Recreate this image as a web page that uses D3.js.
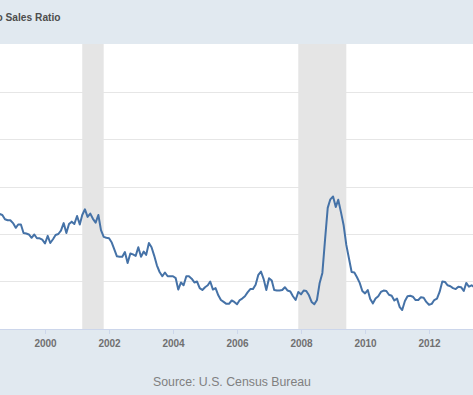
<!DOCTYPE html>
<html>
<head>
<meta charset="utf-8">
<script src="https://cdn.jsdelivr.net/npm/d3@7"></script>
<style>
  html, body { margin: 0; padding: 0; background: #e1e9f0; }
  svg { display: block; font-family: "Liberation Sans", Arial, sans-serif; }
</style>
</head>
<body>
<svg id="chart" width="473" height="395"></svg>
<script>
// ---- Data (monthly, starting July 1998) ----
const titleText = "Total Business: Inventories to Sales Ratio";
const sourceText = "Source: U.S. Census Bureau";
const startYear = 1998, startMonth = 6; // July 1998 (0-based month)
const ratio = [
  // 1998 Jul-Dec
  1.444, 1.442, 1.440, 1.431, 1.429, 1.429,
  // 1999
  1.423, 1.413, 1.420, 1.420, 1.402, 1.401, 1.399, 1.392, 1.399, 1.391, 1.391, 1.388,
  // 2000
  1.380, 1.396, 1.381, 1.389, 1.398, 1.400, 1.407, 1.423, 1.402, 1.421, 1.426, 1.421,
  // 2001
  1.438, 1.420, 1.440, 1.452, 1.436, 1.443, 1.432, 1.424, 1.440, 1.408, 1.394, 1.392,
  // 2002
  1.391, 1.382, 1.368, 1.353, 1.352, 1.352, 1.362, 1.339, 1.359, 1.357, 1.354, 1.372,
  // 2003
  1.352, 1.363, 1.356, 1.381, 1.372, 1.354, 1.334, 1.320, 1.311, 1.319, 1.311, 1.311,
  // 2004
  1.311, 1.307, 1.283, 1.298, 1.292, 1.311, 1.311, 1.306, 1.298, 1.300, 1.286, 1.282,
  // 2005
  1.288, 1.292, 1.300, 1.283, 1.286, 1.271, 1.261, 1.257, 1.253, 1.253, 1.260, 1.257,
  // 2006
  1.252, 1.261, 1.264, 1.269, 1.277, 1.284, 1.284, 1.293, 1.314, 1.321, 1.305, 1.282,
  // 2007
  1.307, 1.302, 1.282, 1.281, 1.281, 1.282, 1.288, 1.281, 1.279, 1.269, 1.261, 1.278,
  // 2008
  1.273, 1.281, 1.280, 1.271, 1.257, 1.252, 1.261, 1.297, 1.318, 1.387, 1.455, 1.473,
  // 2009
  1.479, 1.457, 1.472, 1.446, 1.419, 1.377, 1.349, 1.320, 1.319, 1.309, 1.297, 1.280,
  // 2010
  1.275, 1.282, 1.263, 1.254, 1.264, 1.269, 1.278, 1.281, 1.280, 1.272, 1.270, 1.260,
  // 2011
  1.264, 1.246, 1.240, 1.259, 1.269, 1.270, 1.268, 1.261, 1.261, 1.267, 1.266, 1.257,
  // 2012
  1.251, 1.253, 1.261, 1.264, 1.278, 1.300, 1.299, 1.292, 1.290, 1.286, 1.284, 1.289,
  // 2013 Jan-Jun
  1.288, 1.280, 1.297, 1.289, 1.292, 1.288
];
const recessions = [["2001-03-01", "2001-11-01"], ["2007-12-01", "2009-06-01"]];
const tickYears = [2000, 2002, 2004, 2006, 2008, 2010, 2012];
const gridValues = [1.3, 1.4, 1.5, 1.6, 1.7];

// ---- Layout ----
const W = 473, H = 395;
const plot = { left: 0, right: 473, top: 44, bottom: 329 };

const svg = d3.select("#chart");

const x = d3.scaleUtc()
  .domain([new Date(Date.UTC(2000, 0, 1)), new Date(Date.UTC(2012, 0, 1))])
  .range([45, 429]);
const y = d3.scaleLinear().domain([1.2, 1.8]).range([plot.bottom, plot.top]);

const series = ratio.map((v, i) => ({
  date: new Date(Date.UTC(startYear, startMonth + i, 1)),
  value: v
}));

// background
svg.append("rect").attr("width", W).attr("height", H).attr("fill", "#e1e9f0");

// plot area
svg.append("rect")
  .attr("x", plot.left).attr("y", plot.top)
  .attr("width", plot.right - plot.left).attr("height", plot.bottom - plot.top)
  .attr("fill", "#ffffff");

// gridlines
svg.append("g").selectAll("line").data(gridValues).join("line")
  .attr("x1", plot.left).attr("x2", plot.right)
  .attr("y1", d => Math.round(y(d)) + 0.5).attr("y2", d => Math.round(y(d)) + 0.5)
  .attr("stroke", "#e6e6e6").attr("stroke-width", 1);

// recession bands
const parse = d3.utcParse("%Y-%m-%d");
svg.append("g").selectAll("rect").data(recessions).join("rect")
  .attr("x", d => x(parse(d[0])))
  .attr("width", d => x(parse(d[1])) - x(parse(d[0])))
  .attr("y", plot.top).attr("height", plot.bottom - plot.top)
  .attr("fill", "#e5e5e5");

// axis
const axis = d3.axisBottom(x)
  .tickValues(tickYears.map(yr => new Date(Date.UTC(yr, 0, 1))))
  .tickFormat(d3.utcFormat("%Y"))
  .tickSize(5).tickPadding(6);
const gx = svg.append("g").attr("transform", `translate(0,${plot.bottom})`).call(axis);
gx.select(".domain").remove();
gx.append("line").attr("x1", 0).attr("x2", W).attr("y1", 0.5).attr("y2", 0.5)
  .attr("stroke", "#ccd6eb");
gx.selectAll(".tick line").attr("stroke", "#ccd6eb");
gx.selectAll(".tick text")
  .attr("fill", "#707070").attr("font-size", "10px").attr("font-weight", "bold")
  .attr("font-family", "'Liberation Sans', Arial, sans-serif");

// line
const clipId = "plotclip";
svg.append("clipPath").attr("id", clipId).append("rect")
  .attr("x", plot.left).attr("y", plot.top)
  .attr("width", plot.right - plot.left).attr("height", plot.bottom - plot.top);
svg.append("path")
  .datum(series)
  .attr("clip-path", `url(#${clipId})`)
  .attr("fill", "none")
  .attr("stroke", "#4572a7")
  .attr("stroke-width", 2)
  .attr("stroke-linejoin", "round")
  .attr("d", d3.line().x(d => x(d.date)).y(d => y(d.value)));

// title (cut off at the left)
svg.append("text")
  .attr("x", 60.5).attr("y", 21)
  .attr("text-anchor", "end")
  .attr("font-size", "10.2px").attr("font-weight", "bold")
  .attr("fill", "#4d4d4d")
  .text(titleText);

// source
svg.append("text")
  .attr("x", 232).attr("y", 386)
  .attr("text-anchor", "middle")
  .attr("font-size", "12.3px")
  .attr("fill", "#808080")
  .text(sourceText);
</script>
</body>
</html>
